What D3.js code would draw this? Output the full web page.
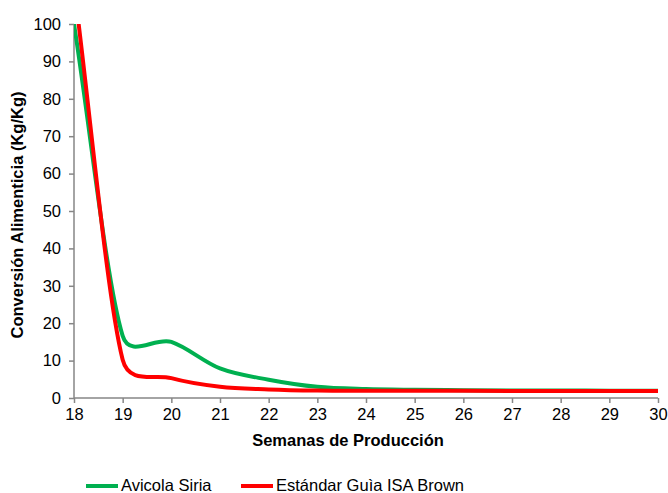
<!DOCTYPE html>
<html><head><meta charset="utf-8">
<script src="https://cdn.jsdelivr.net/npm/d3@7"></script>
<style>body{margin:0;background:#fff}svg{display:block;font-family:"Liberation Sans",Arial,sans-serif}</style>
</head><body>
<svg id="c" width="668" height="493"></svg>
<script>
const weeks = [18,19,20,21,22,23,24,25,26,27,28,29,30];
const avicolaSiria = [100,16.6,15.0,7.9,4.9,3.0,2.4,2.2,2.1,2.0,2.0,1.95,1.95];
const isaBrown = [110,10.2,5.3,3.0,2.3,2.0,1.95,1.95,1.95,1.9,1.9,1.9,1.9];
const yTicks = [0,10,20,30,40,50,60,70,80,90,100];
const seriesNames = ["Avicola Siria","Estándar Guìa ISA Brown"];
const seriesColors = ["#00B050","#FF0000"];

// Excel-like smoothing curve (Bezier, tangents limited by segment length)
function excelSmooth(context){
  let pts = [];
  return {
    areaStart(){}, areaEnd(){},
    lineStart(){ pts = []; },
    point(x,y){ pts.push([+x,+y]); },
    lineEnd(){
      const n = pts.length;
      if(!n) return;
      context.moveTo(pts[0][0],pts[0][1]);
      const dist=(a,b)=>Math.hypot(b[0]-a[0],b[1]-a[1]);
      const tan = i => {
        const p = pts[Math.max(0,i-1)], q = pts[Math.min(n-1,i+1)];
        const f = (i===0||i===n-1) ? 1/3 : 1/6;
        return [(q[0]-p[0])*f,(q[1]-p[1])*f];
      };
      for(let i=0;i<n-1;i++){
        const a=pts[i], b=pts[i+1], d=dist(a,b);
        let t0=tan(i), t1=tan(i+1);
        const lim = d/2;
        const s0=Math.min(1, lim/(Math.hypot(t0[0],t0[1])||1));
        const s1=Math.min(1, lim/(Math.hypot(t1[0],t1[1])||1));
        context.bezierCurveTo(a[0]+t0[0]*s0,a[1]+t0[1]*s0,b[0]-t1[0]*s1,b[1]-t1[1]*s1,b[0],b[1]);
      }
    }
  };
}

const svg = d3.select("#c");
const m = {l:74, r:658, t:24, b:398};
const x = d3.scaleLinear().domain([18,30]).range([m.l,m.r]);
const y = d3.scaleLinear().domain([0,100]).range([m.b,m.t]);

svg.append("clipPath").attr("id","clip").append("rect")
  .attr("x",m.l).attr("y",m.t).attr("width",m.r-m.l+4).attr("height",m.b-m.t);

const gy = svg.append("g").attr("transform",`translate(${m.l},0)`)
  .call(d3.axisLeft(y).tickValues(yTicks).tickSize(5).tickPadding(8));
const gx = svg.append("g").attr("transform",`translate(0,${m.b})`)
  .call(d3.axisBottom(x).tickValues(weeks).tickSize(5).tickPadding(5));
[gx,gy].forEach(g=>{
  g.selectAll("path,line").attr("stroke","#868686").attr("stroke-width",1.5);
  g.select(".domain").attr("d", g===gx ? `M${m.l},0H${m.r}` : `M0,${m.b}V${m.t}`);
  g.selectAll("text").attr("font-size",16.5).attr("fill","#000").attr("font-family","Liberation Sans, Arial, sans-serif");
});

const line = d3.line().x((d,i)=>x(weeks[i])).y(d=>y(d)).curve(excelSmooth);
const data = [avicolaSiria, isaBrown];
data.forEach((s,k)=>{
  svg.append("path").attr("clip-path","url(#clip)").attr("d",line(s))
    .attr("fill","none").attr("stroke",seriesColors[k]).attr("stroke-width",4)
    .attr("stroke-linejoin","round");
});

svg.append("text").attr("x",348).attr("y",446).attr("text-anchor","middle")
  .attr("font-size",16.5).attr("font-weight","bold").text("Semanas de Producción");
svg.append("text").attr("transform",`translate(23,${(m.t+m.b)/2+4}) rotate(-90)`)
  .attr("text-anchor","middle").attr("font-size",16.5).attr("font-weight","bold")
  .text("Conversión Alimenticia (Kg/Kg)");

const lx = [86, 241];
seriesNames.forEach((n,k)=>{
  svg.append("line").attr("x1",lx[k]).attr("x2",lx[k]+32).attr("y1",486).attr("y2",486)
    .attr("stroke",seriesColors[k]).attr("stroke-width",4);
  svg.append("text").attr("x",lx[k]+35).attr("y",491).attr("font-size",16.5).text(n);
});
</script>
</body></html>
